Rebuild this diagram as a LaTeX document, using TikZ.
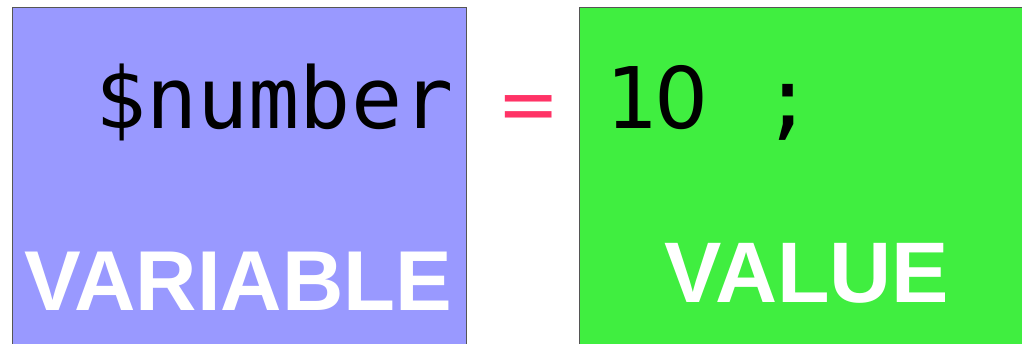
\documentclass[tikz,border=0pt]{standalone}
\usepackage{fontspec}
\setmainfont{Liberation Sans}
\newfontfamily\codefont{DejaVu Sans Mono}
\newfontfamily\plainsans{DejaVu Sans}
\newfontfamily\labelfont{Liberation Sans}
\definecolor{varblue}{HTML}{9999FF}
\definecolor{valgreen}{HTML}{40EE40}
\definecolor{eqpink}{HTML}{FF3366}
\definecolor{boxline}{HTML}{555555}
\newcommand{\plainzero}{\makebox[0.602em]{\plainsans 0}}
\tikzset{
  box/.style={draw=boxline, line width=1pt},
  codetext/.style={inner sep=0pt, anchor=base west, text=black, font=\codefont\fontsize{85}{85}\selectfont},
  bigword/.style={inner sep=0pt, anchor=base west, text=white, font=\labelfont\bfseries\fontsize{86}{86}\selectfont},
  eqsign/.style={inner sep=0pt, anchor=base, text=eqpink, font=\labelfont\bfseries\fontsize{93}{93}\selectfont}
}
\begin{document}
\begin{tikzpicture}[x=1pt, y=-1pt]
\useasboundingbox (0,0) rectangle (1022,343);
\fill[white] (0,0) rectangle (1022,343);
\begin{scope}
\clip (0,0) rectangle (1022,343);
\draw[box, fill=varblue] (12.5,7.5) rectangle (466.5,360);
\draw[box, fill=valgreen] (579.5,7.5) rectangle (1040,360);
\end{scope}
\node[codetext] (var) at (95,128) {\$number};
\node[codetext] (val) at (605,128) {1\plainzero{} \hspace{0.05em};};
\node[eqsign] (eq) at (528.5,126) {\scalebox{1}[0.64]{=}};
\node[bigword, font=\labelfont\bfseries\fontsize{85}{85}\selectfont] (vl) at (24,310) {VARIABLE};
\node[bigword] (vv) at (664,302) {VALUE};
\end{tikzpicture}
\end{document}
